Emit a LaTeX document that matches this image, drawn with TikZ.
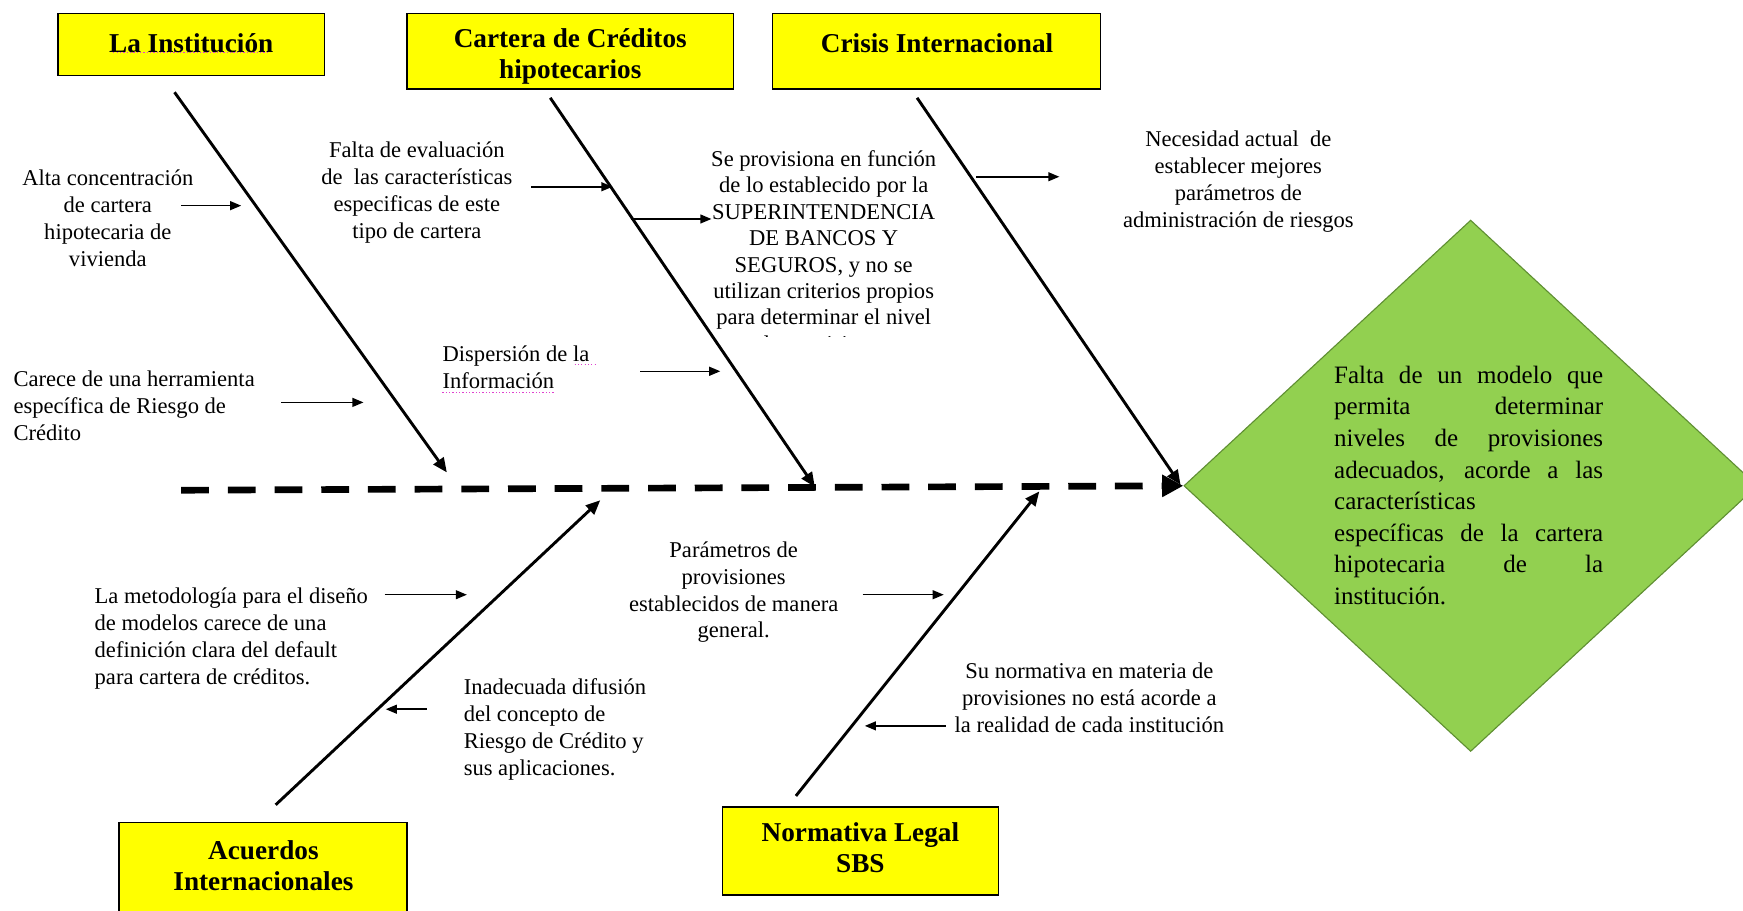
\documentclass[tikz,border=0pt]{standalone}
\usepackage{fontspec}
\setmainfont{Liberation Serif}
\usetikzlibrary{arrows.meta,shapes.geometric}

\definecolor{boxyellow}{HTML}{FFFF00}
\definecolor{goalgreen}{HTML}{92D050}
\definecolor{goaledge}{HTML}{5F8F32}
\definecolor{spellmark}{HTML}{E040D0}

\newcommand{\jline}[1]{\makebox[242pt][s]{#1}}

\tikzset{
  causebox/.style={draw=black, line width=1.3pt, fill=boxyellow, inner sep=0pt, rectangle},
  causetitle/.style={font=\bfseries\fontsize{24.5}{28}\selectfont, align=center, inner sep=0pt},
  note/.style={font=\fontsize{20.3}{24.2}\selectfont, inner sep=0pt},
  bone/.style={line width=2.6pt, -{Triangle[length=13pt,width=11pt]}},
  twig/.style={line width=1.4pt, -{Triangle[length=10pt,width=8pt]}},
  spine/.style={line width=6pt, dash pattern=on 25pt off 17pt, -{Triangle[length=19pt,width=19pt]}},
  spellcheck/.style={draw=spellmark, line width=1pt, dotted},
}

\begin{document}
\begin{tikzpicture}[x=1pt,y=-1pt]
\useasboundingbox (0,0) rectangle (1568,819);
\clip (0,0) rectangle (1568,819);
\fill[white] (0,0) rectangle (1568,819);

% effect: the problem to be explained
\node[diamond, draw=goaledge, line width=1pt, fill=goalgreen, inner sep=0pt,
      minimum width=516pt, minimum height=478pt] (goal) at (1323,437) {};
\node[anchor=north west, inner sep=0pt, align=left,
      font=\fontsize{22.5}{28.4}\selectfont] (goaltext) at (1200,329)
  {\jline{Falta de un modelo que}\\
   \jline{permita determinar}\\
   \jline{niveles de provisiones}\\
   \jline{adecuados, acorde a las}\\
   características\\
   \jline{específicas de la cartera}\\
   \jline{hipotecaria de la}\\
   institución.};

% cause categories
\node[causebox, minimum width=240pt, minimum height=56pt] (inst) at (172,40) {};
\node[causetitle] (instT) at (172,38.5) {La Institución};
\node[causebox, minimum width=294pt, minimum height=68pt] (cart) at (513,46) {};
\node[causetitle] (cartT) at (513,51) {Cartera de Créditos\\hipotecarios};
\node[causebox, minimum width=295pt, minimum height=68pt] (cris) at (842.5,46) {};
\node[causetitle] (crisT) at (843,38.5) {Crisis Internacional};
\node[causebox, minimum width=259pt, minimum height=90pt] (acue) at (236.5,785) {};
\node[causetitle] (acueT) at (237,778.5) {Acuerdos\\Internacionales};
\node[causebox, minimum width=248pt, minimum height=79pt] (norm) at (774,765.5) {};
\node[causetitle] (normT) at (774,762.5) {Normativa Legal\\SBS};

% word-processor spelling marks
\draw[spellcheck] (102,47) -- (243,47);

% backbone
\coordinate (spineStart) at (163,441);
\draw[spine] (spineStart) -- (goal.west);

% main bones
\coordinate (b1s) at (157,83);  \coordinate (b1e) at (402,425);
\coordinate (b2s) at (495,88);  \coordinate (b2e) at (733,438);
\coordinate (b3s) at (825,88);  \coordinate (b3e) at (1062,436);
\coordinate (b4s) at (248,724); \coordinate (b4e) at (540,450);
\coordinate (b5s) at (716,716); \coordinate (b5e) at (935,442);
\draw[bone] (b1s) -- (b1e);
\draw[bone] (b2s) -- (b2e);
\draw[bone] (b3s) -- (b3e);
\draw[bone] (b4s) -- (b4e);
\draw[bone] (b5s) -- (b5e);

% sub-causes
\node[note, anchor=north, align=center] (n1) at (97,152.5)
  {Alta concentración\\de cartera\\hipotecaria de\\vivienda};
\node[note, anchor=north, align=center] (n2) at (375,127.5)
  {Falta de evaluación\\de\ \ las características\\especificas de este\\tipo de cartera};
\begin{scope}
  \clip (600,100) rectangle (900,302.5);
  \node[note, anchor=north, align=center, font=\fontsize{20.3}{23.8}\selectfont] (n3) at (741,135)
    {Se provisiona en función\\de lo establecido por la\\SUPERINTENDENCIA\\DE BANCOS Y\\SEGUROS, y no se\\utilizan criterios propios\\para determinar el nivel\\de provisiones};
\end{scope}
\node[note, anchor=north, align=center] (n4) at (1114,117.5)
  {Necesidad actual\ \ de\\establecer mejores\\parámetros de\\administración de riesgos};
\node[note, anchor=north west, align=left] (n5) at (12,333.5)
  {Carece de una herramienta\\específica de Riesgo de\\Crédito};
\node[note, anchor=north west, align=left, font=\fontsize{20.3}{25}\selectfont] (n6) at (398,310.5)
  {Dispersión de la\\Información};
\draw[spellcheck] (517,328) -- (536,328);
\draw[spellcheck] (398,353) -- (498,353);
\node[note, anchor=north west, align=left] (n7) at (85,528.5)
  {La metodología para el diseño\\de modelos carece de una\\definición clara del default\\para cartera de créditos.};
\node[note, anchor=north west, align=left] (n8) at (417,610.5)
  {Inadecuada difusión\\del concepto de\\Riesgo de Crédito y\\sus aplicaciones.};
\node[note, anchor=north, align=center] (n9) at (660,487)
  {Parámetros de\\provisiones\\establecidos de manera\\general.};
\node[note, anchor=north, align=center] (n10) at (980,596.5)
  {Su normativa en materia de\\provisiones no está acorde a\\la realidad de cada institución};

% short arrows from each sub-cause to its bone
\coordinate (t1a) at (163,185);  \coordinate (t1b) at (217,185);
\coordinate (t2a) at (478,168);  \coordinate (t2b) at (551,168);
\coordinate (t3a) at (568,197);  \coordinate (t3b) at (640,197);
\coordinate (t4a) at (878,159);  \coordinate (t4b) at (953,159);
\coordinate (t5a) at (253,362);  \coordinate (t5b) at (327,362);
\coordinate (t6a) at (576,334);  \coordinate (t6b) at (648,334);
\coordinate (t7a) at (346,535);  \coordinate (t7b) at (420,535);
\coordinate (t8a) at (384,638);  \coordinate (t8b) at (347,638);
\coordinate (t9a) at (776,535);  \coordinate (t9b) at (849,535);
\coordinate (t10a) at (851,653); \coordinate (t10b) at (778,653);
\foreach \k in {1,...,10} \draw[twig] (t\k a) -- (t\k b);
\end{tikzpicture}
\end{document}
